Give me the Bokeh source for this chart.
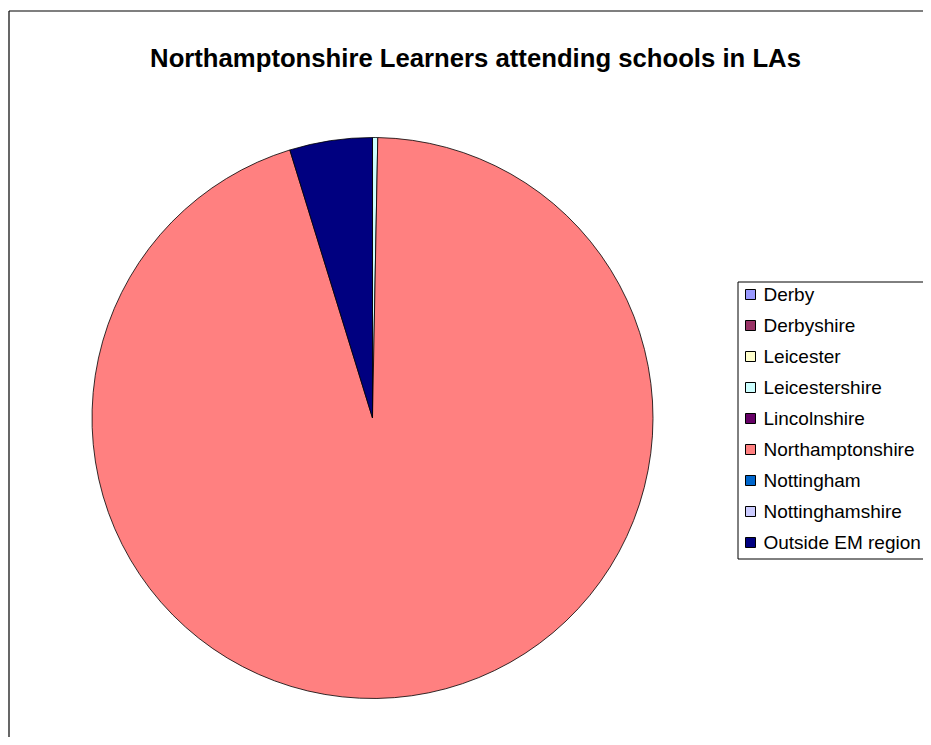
import math
from bokeh.plotting import figure
from bokeh.models import Range1d, ColumnDataSource
from bokeh.core.properties import value
from bokeh.embed import file_html
from bokeh.resources import INLINE

# ---- data ----
title = "Northamptonshire Learners attending schools in LAs"
categories = ["Derby", "Derbyshire", "Leicester", "Leicestershire", "Lincolnshire",
              "Northamptonshire", "Nottingham", "Nottinghamshire", "Outside EM region"]
shares = [0.0, 0.0, 0.0, 0.3, 0.0, 94.94, 0.0, 0.0, 4.76]
colors = ["#9999FF", "#993366", "#FFFFCC", "#CCFFFF", "#660066",
          "#FF8080", "#0066CC", "#CCCCFF", "#000080"]

W, H = 923, 737
FONT = "Liberation Sans"

p = figure(width=W, height=H, output_backend="svg", toolbar_location=None,
           x_range=Range1d(0, W), y_range=Range1d(0, H),
           min_border=0, outline_line_color=None)
p.axis.visible = False
p.grid.visible = False
p.background_fill_color = "white"
p.border_fill_color = "white"

def sy(y):  # picture y -> data y
    return H - y

# outer chart border: only left and top edges are in view
p.segment(x0=[8.5, 8.5], y0=[sy(10.5), sy(10.5)], x1=[8.5, 1500], y1=[-500, sy(10.5)],
          line_color="black", line_width=1.2)

# pie (slices of zero size are not drawn)
total = sum(shares)
starts, ends, cats, cols = [], [], [], []
cum = 0.0
for c, s, col in zip(categories, shares, colors):
    a0 = math.pi / 2 - 2 * math.pi * cum / total
    cum += s
    a1 = math.pi / 2 - 2 * math.pi * cum / total
    if s > 0:
        starts.append(a0); ends.append(a1); cats.append(c); cols.append(col)
src = ColumnDataSource(dict(cat=cats, start=starts, end=ends, color=cols))
p.wedge(x=372, y=sy(417.5), radius=280.5, start_angle="start", end_angle="end",
        direction="clock", fill_color="color", line_color="black", line_width=0.8,
        source=src)

# title
p.text(x=[475], y=[sy(57)], text=[title], text_font=value(FONT),
       text_font_size="25.7px", text_font_style="bold", text_align="center",
       text_baseline="alphabetic", text_color="black")

# legend box (right edge runs off the window)
p.segment(x0=[737.5, 737.5, 737.5], y0=[sy(281.5), sy(281.5), sy(558.5)],
          x1=[737.5, 1500, 1500], y1=[sy(558.5), sy(281.5), sy(558.5)],
          line_color="black", line_width=1)
ly = [sy(294 + 31 * i) for i in range(len(categories))]
lsrc = ColumnDataSource(dict(x=[750] * len(categories), tx=[763] * len(categories),
                             y=ly, cat=categories, color=colors))
p.rect(x="x", y="y", width=10, height=10, fill_color="color", line_color="black",
       line_width=1, source=lsrc)
p.text(x="tx", y="y", text="cat", text_font=value(FONT), text_font_size="19px",
       text_baseline="middle", text_align="left", text_color="black", source=lsrc)

open("out.html", "w").write(file_html(p, INLINE))
